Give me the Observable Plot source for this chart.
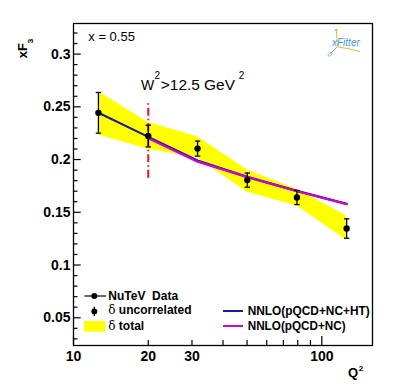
<!DOCTYPE html>
<html><head><meta charset="utf-8">
<script src="https://cdn.jsdelivr.net/npm/d3@7"></script>
<script src="https://cdn.jsdelivr.net/npm/@observablehq/plot@0.6"></script>
<style>
body{margin:0;background:#fff;}
#chart{position:relative;width:407px;height:387px;}
</style></head><body><div id="chart"></div>
<script>
// ---- data ----
const q2 = [12.6, 20.0, 31.6, 50.1, 79.4, 125.9];
const xF3 = [0.2443, 0.2223, 0.2104, 0.1805, 0.1640, 0.1346];
const errUncor = [0.0193, 0.0103, 0.0071, 0.0067, 0.0067, 0.0092];
const totalHi = [0.2642, 0.2351, 0.2216, 0.1900, 0.1719, 0.1465];
const totalLo = [0.2234, 0.2098, 0.2015, 0.1690, 0.1560, 0.1234];
const htQ2 = [12.6, 20.0, 31.6, 50.1, 79.4, 125.9];
const nnloHT = [0.2443, 0.2215, 0.1990, 0.1836, 0.1703, 0.1580];
const ncQ2 = [20.0, 31.6, 50.1, 79.4, 125.9];
const nnloNC = [0.2203, 0.1980, 0.1833, 0.1700, 0.1578];
const wCutQ2 = [20];
const wCutRange = [0.1823, 0.2547];
const yMajor = [0.05, 0.1, 0.15, 0.2, 0.25, 0.3];
const yLabels = ["0.05", "0.1", "0.15", "0.2", "0.25", "0.3"];
const yMinor = [0.03,0.04,0.06,0.07,0.08,0.09,0.11,0.12,0.13,0.14,0.16,0.17,0.18,0.19,0.21,0.22,0.23,0.24,0.26,0.27,0.28,0.29,0.31,0.32];
const xLong = [10, 100];
const xShort = [20, 30, 40, 50, 60, 70, 80, 90];
const xLabelVals = [10, 20, 30, 40, 50, 100];
const xLabels = ["10", "20", "30", "40", "50", "100"];

const W = 407, H = 387, mL = 73, mR = 35, mT = 23, mB = 42;
const innerW = W - mL - mR, innerH = H - mT - mB;

const pts = q2.map((q, i) => ({q, v: xF3[i], e: errUncor[i], hi: totalHi[i], lo: totalLo[i]}));
const ht = htQ2.map((q, i) => ({q, v: nnloHT[i]}));
const nc = ncQ2.map((q, i) => ({q, v: nnloNC[i]}));

const capSymbol = {draw(ctx, size) { const r = Math.sqrt(size / Math.PI); ctx.moveTo(-r, 0); ctx.lineTo(r, 0); }};

const plot = Plot.plot({
  width: W, height: H,
  marginLeft: mL, marginRight: mR, marginTop: mT, marginBottom: mB,
  style: {fontFamily: "'Liberation Sans', Arial, sans-serif"},
  x: {type: "log", domain: [10, 160]},
  y: {domain: [0.0237, 0.329]},
  marks: [
    Plot.areaY(pts, {x: "q", y1: "lo", y2: "hi", fill: "#ffff00"}),
    Plot.ruleX(wCutQ2, {x: d => d, y1: wCutRange[0], y2: wCutRange[1], stroke: "#e8141c", strokeWidth: 2, strokeDasharray: "8,3,1.5,3"}),
    Plot.line(ht, {x: "q", y: "v", stroke: "#1c1ca0", strokeWidth: 2.2}),
    Plot.line(nc, {x: "q", y: "v", stroke: "#d200d2", strokeWidth: 2.2}),
    Plot.ruleX(pts, {x: "q", y1: d => d.v - d.e, y2: d => d.v + d.e, stroke: "black", strokeWidth: 1.3}),
    Plot.dot(pts, {x: "q", y: d => d.v + d.e, symbol: capSymbol, r: 2.7, stroke: "black", strokeWidth: 1.3, fill: "none"}),
    Plot.dot(pts, {x: "q", y: d => d.v - d.e, symbol: capSymbol, r: 2.7, stroke: "black", strokeWidth: 1.3, fill: "none"}),
    Plot.dot(pts, {x: "q", y: "v", r: 3.2, fill: "black", stroke: "none"}),
    Plot.frame({stroke: "black", strokeWidth: 1.3}),
    Plot.tickY(yMajor, {y: d => d, insetRight: innerW - 7.7, stroke: "black", strokeWidth: 1.2}),
    Plot.tickY(yMinor, {y: d => d, insetRight: innerW - 4.5, stroke: "black", strokeWidth: 1.2}),
    Plot.tickX(xLong, {x: d => d, insetTop: innerH - 9, stroke: "black", strokeWidth: 1.2}),
    Plot.tickX(xShort, {x: d => d, insetTop: innerH - 5, stroke: "black", strokeWidth: 1.2}),
    Plot.axisY(yMajor, {tickSize: 0, tickPadding: 3, label: null, fontSize: 14, fontWeight: "bold", fill: "black",
      tickFormat: d => yLabels[yMajor.indexOf(d)]}),
    Plot.axisX(xLabelVals, {tickSize: 0, tickPadding: 6, label: null, fontSize: 14, fontWeight: "bold", fill: "black",
      tickFormat: d => xLabels[xLabelVals.indexOf(d)]})
  ]
});
document.getElementById("chart").appendChild(plot);

// ---- annotations ----
const svg = d3.select(plot);
const F = "'Liberation Sans', Arial, sans-serif";
function txt(x, y, s, size, weight, opts = {}) {
  const t = svg.append("text").attr("x", x).attr("y", y).attr("font-family", F)
    .attr("text-anchor", opts.anchor || "start")
    .attr("font-size", size).attr("font-weight", weight || "normal").attr("fill", opts.fill || "black").text(s);
  if (opts.style) t.attr("font-style", opts.style);
  if (opts.len) t.attr("textLength", opts.len).attr("lengthAdjust", "spacingAndGlyphs");
  return t;
}
txt(88.3, 41, "x = 0.55", 13, "normal");

// W^2 > 12.5 GeV^2 as one text element
const wt = txt(141, 90, "", 14, "normal");
wt.append("tspan").attr("x", 141).attr("y", 90).text("W");
wt.append("tspan").attr("x", 154.5).attr("y", 79).attr("font-size", 10).text("2");
wt.append("tspan").attr("x", 160.8).attr("y", 90).attr("textLength", 74.2).attr("lengthAdjust", "spacingAndGlyphs").text(">12.5 GeV");
wt.append("tspan").attr("x", 238.8).attr("y", 78.7).attr("font-size", 10).text("2");

// y label xF3 rotated
const yl = svg.append("text").attr("transform", "translate(26.7,58.3) rotate(-90)").attr("text-anchor", "start")
  .attr("font-family", F).attr("font-weight", "bold").attr("font-size", 13).attr("fill", "black");
yl.append("tspan").text("xF");
yl.append("tspan").attr("font-size", 8).attr("dy", 6.3).text("3");

// x label Q2
const ql = txt(348, 376.7, "", 13, "bold");
ql.append("tspan").text("Q");
ql.append("tspan").attr("x", 358.8).attr("y", 370.5).attr("font-size", 8).text("2");

// xFitter logo
const logo = svg.append("g");
logo.append("path").attr("d", "M336.3,30 L337.5,46.5").attr("stroke", "#f2b13c").attr("stroke-width", 1).attr("fill", "none");
logo.append("circle").attr("cx", 336.3).attr("cy", 30).attr("r", 1.3).attr("fill", "#f2b13c");
logo.append("path").attr("d", "M337.5,47 Q348,48 360,51.5").attr("stroke", "#f2b13c").attr("stroke-width", 1).attr("fill", "none");
logo.append("path").attr("d", "M337,47 L330.5,53.5").attr("stroke", "#6fb3e6").attr("stroke-width", 1).attr("fill", "none");
logo.append("ellipse").attr("cx", 330).attr("cy", 54.3).attr("rx", 2.3).attr("ry", 1.3).attr("transform", "rotate(-40,330,54.3)")
  .attr("stroke", "#6fb3e6").attr("stroke-width", 0.8).attr("fill", "none");
txt(332, 46.3, "xFitter", 10, "normal", {fill: "#3b98dd", style: "italic"});

// legend (left)
svg.append("line").attr("x1", 84.3).attr("x2", 106).attr("y1", 296).attr("y2", 296).attr("stroke", "black").attr("stroke-width", 1.2);
svg.append("circle").attr("cx", 94.3).attr("cy", 296).attr("r", 3).attr("fill", "black");
txt(108.3, 299.5, "NuTeV  Data", 12, "bold").attr("xml:space", "preserve").style("white-space", "pre");
svg.append("line").attr("x1", 94.3).attr("x2", 94.3).attr("y1", 306.7).attr("y2", 316).attr("stroke", "black").attr("stroke-width", 1.3);
svg.append("circle").attr("cx", 94.3).attr("cy", 311.5).attr("r", 3).attr("fill", "black");
const t2 = txt(108.3, 314.3, "", 12, "bold");
t2.append("tspan").attr("font-weight", "normal").attr("font-family", "'DejaVu Serif', serif").text("δ");
t2.append("tspan").text(" uncorrelated");
svg.append("rect").attr("x", 84).attr("y", 321).attr("width", 21.3).attr("height", 10.7).attr("fill", "#ffff00");
const t3 = txt(108.3, 329.5, "", 12, "bold");
t3.append("tspan").attr("font-weight", "normal").attr("font-family", "'DejaVu Serif', serif").text("δ");
t3.append("tspan").text(" total");

// legend (right)
svg.append("line").attr("x1", 223).attr("x2", 243).attr("y1", 311).attr("y2", 311).attr("stroke", "#1c1ca0").attr("stroke-width", 2);
txt(247.7, 315.3, "NNLO(pQCD+NC+HT)", 12, "bold", {len: 122});
svg.append("line").attr("x1", 223).attr("x2", 243).attr("y1", 326).attr("y2", 326).attr("stroke", "#d200d2").attr("stroke-width", 2);
txt(247.7, 330.3, "NNLO(pQCD+NC)", 12, "bold", {len: 98});
</script></body></html>
